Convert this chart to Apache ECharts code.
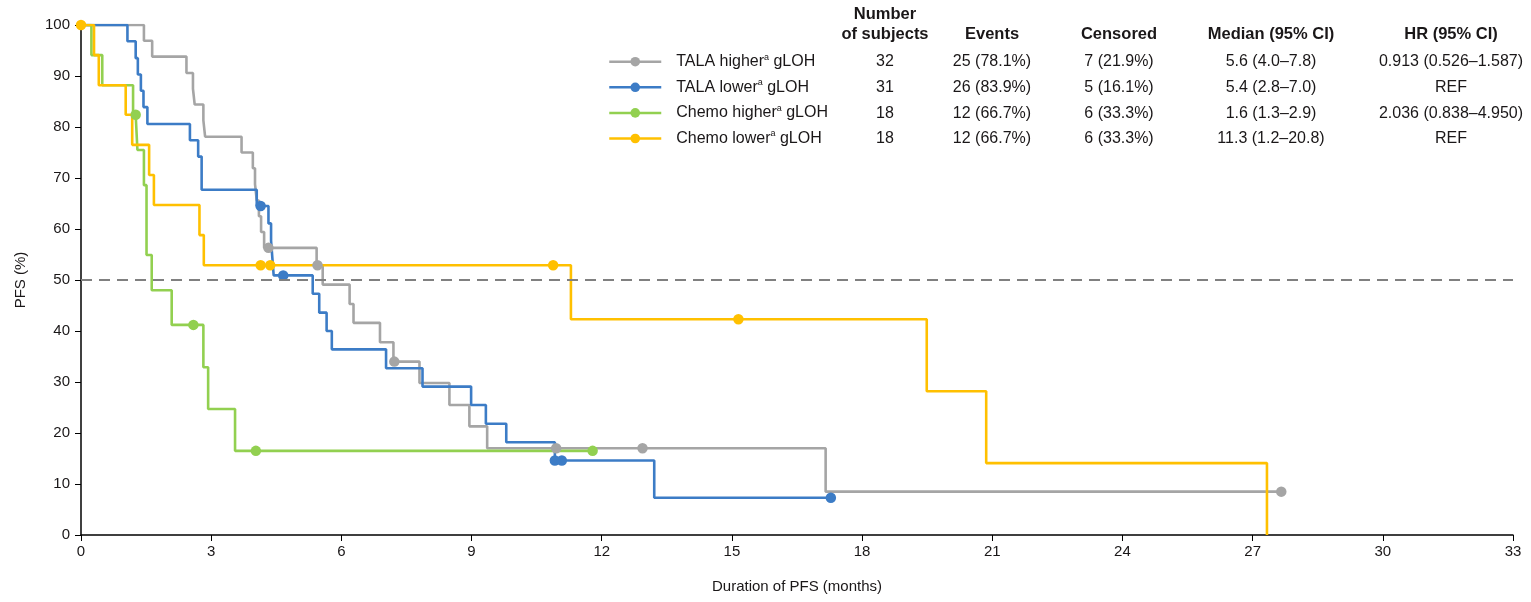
<!DOCTYPE html>
<html>
<head>
<meta charset="utf-8">
<title>PFS by gLOH</title>
<script src="https://cdn.jsdelivr.net/npm/echarts@6/dist/echarts.min.js"></script>
<style>
  html, body { margin: 0; padding: 0; background: #fff; }
  #chart { width: 1531px; height: 602px; }
</style>
</head>
<body>
<div id="chart"></div>
<script>
// groups, in draw order (last one ends up on top)
const groups = ['TALA higher', 'TALA lower', 'Chemo higher', 'Chemo lower'];
const colors = ['#a5a5a5', '#3c7cc6', '#92d050', '#ffc000'];

// event times (months) and PFS (%) right after each event
const talaHigherTimes = [0, 1.45, 1.64, 2.43, 2.58, 2.62, 2.82, 2.86, 3.70, 3.96, 4.01, 4.05, 4.10, 4.15, 4.22, 5.43, 5.57, 6.19, 6.28, 6.89, 7.20, 7.80, 8.49, 8.95, 9.36, 17.16];
const talaHigherPfs = [100, 96.9, 93.8, 90.6, 87.5, 84.4, 81.3, 78.1, 75.0, 71.9, 68.8, 65.6, 62.5, 59.4, 56.3, 52.9, 49.1, 45.3, 41.6, 37.8, 34.0, 29.8, 25.5, 21.3, 17.0, 8.5];
const talaHigherCensored = [4.32, 5.45, 7.22, 10.95, 12.94, 27.66];

const talaLowerTimes = [0, 1.07, 1.26, 1.31, 1.38, 1.44, 1.53, 2.51, 2.70, 2.78, 4.05, 4.32, 4.38, 4.41, 4.44, 5.34, 5.49, 5.66, 5.78, 7.03, 7.87, 8.99, 9.33, 9.80, 10.92, 13.21];
const talaLowerPfs = [100, 96.8, 93.5, 90.3, 87.1, 83.9, 80.6, 77.4, 74.2, 67.7, 64.5, 61.1, 57.7, 54.3, 50.9, 47.3, 43.6, 40.0, 36.4, 32.7, 29.1, 25.5, 21.8, 18.2, 14.6, 7.3];
const talaLowerCensored = [4.14, 4.66, 10.92, 11.08, 17.28];

const chemoHigherTimes = [0, 0.24, 0.49, 1.20, 1.30, 1.45, 1.51, 1.63, 2.09, 2.82, 2.93, 3.55];
const chemoHigherPfs = [100, 94.1, 88.2, 82.4, 75.5, 68.6, 54.9, 48.0, 41.2, 32.9, 24.7, 16.5];
const chemoHigherCensored = [1.26, 2.59, 4.03, 11.79];

const chemoLowerTimes = [0, 0.30, 0.41, 1.03, 1.18, 1.57, 1.68, 2.73, 2.83, 11.29, 19.49, 20.86, 27.33];
const chemoLowerPfs = [100, 94.1, 88.2, 82.4, 76.5, 70.6, 64.7, 58.8, 52.9, 42.3, 28.2, 14.1, 0];
const chemoLowerCensored = [0, 4.14, 4.36, 10.88, 15.15];

// table at the top right
const tableHeaders = ['Number\nof subjects', 'Events', 'Censored', 'Median (95% CI)', 'HR (95% CI)'];
const nSubjects = ['32', '31', '18', '18'];
const eventCounts = ['25 (78.1%)', '26 (83.9%)', '12 (66.7%)', '12 (66.7%)'];
const censoredCounts = ['7 (21.9%)', '5 (16.1%)', '6 (33.3%)', '6 (33.3%)'];
const medians = ['5.6 (4.0–7.8)', '5.4 (2.8–7.0)', '1.6 (1.3–2.9)', '11.3 (1.2–20.8)'];
const hazardRatios = ['0.913 (0.526–1.587)', 'REF', '2.036 (0.838–4.950)', 'REF'];

const xTicks = [0, 3, 6, 9, 12, 15, 18, 21, 24, 27, 30, 33];
const yTicks = [0, 10, 20, 30, 40, 50, 60, 70, 80, 90, 100];

const curves = [
  [talaHigherTimes, talaHigherPfs, talaHigherCensored],
  [talaLowerTimes, talaLowerPfs, talaLowerCensored],
  [chemoHigherTimes, chemoHigherPfs, chemoHigherCensored],
  [chemoLowerTimes, chemoLowerPfs, chemoLowerCensored]
];

const FONT = '"Liberation Sans", Arial, sans-serif';
const TEXT = '#1a1718';

// PFS at time t = value after the last event at or before t
const pfsAt = (times, pfs, t) => {
  let v = pfs[0];
  times.forEach((tt, i) => { if (tt <= t) v = pfs[i]; });
  return v;
};

// events and censor marks merged into one step line, dots only on censors
const buildData = ([times, pfs, cens]) => {
  const pts = times.map((t, i) => ({ value: [t, pfs[i]], symbol: 'none', k: 0 }));
  cens.forEach(t => pts.push({ value: [t, pfsAt(times, pfs, t)], k: 1 }));
  pts.sort((a, b) => a.value[0] - b.value[0] || a.k - b.k);
  return pts.map(p => p.symbol ? { value: p.value, symbol: p.symbol } : { value: p.value });
};

const series = groups.map((name, i) => ({
  name,
  type: 'line',
  step: 'end',
  data: buildData(curves[i]),
  symbol: 'circle',
  symbolSize: 10.5,
  showAllSymbol: true,
  color: colors[i],
  lineStyle: { width: 2.6, color: colors[i] },
  itemStyle: { color: colors[i] },
  emphasis: { disabled: true },
  markLine: i === 0 ? {
    silent: true,
    symbol: ['none', 'none'],
    label: { show: false },
    lineStyle: { color: '#808080', type: [11, 7], width: 2 },
    data: [{ yAxis: 50 }]
  } : undefined
}));

// table texts
const colX = [885, 992, 1119, 1271, 1451];
const rowY = [61.7, 87.5, 113.2, 138.6];
const tableCols = [nSubjects, eventCounts, censoredCounts, medians, hazardRatios];
const graphic = [];
tableHeaders.forEach((h, c) => {
  graphic.push({
    type: 'text', x: colX[c], y: 45,
    style: {
      text: h, align: 'center', verticalAlign: 'bottom',
      font: 'bold 16.5px ' + FONT, lineHeight: 20.5, fill: TEXT
    }
  });
});
tableCols.forEach((col, c) => {
  col.forEach((txt, r) => {
    graphic.push({
      type: 'text', x: colX[c], y: rowY[r],
      style: { text: txt, align: 'center', verticalAlign: 'middle', font: '16px ' + FONT, fill: TEXT }
    });
  });
});

const chart = echarts.init(document.getElementById('chart'));
chart.setOption({
  animation: false,
  backgroundColor: '#fff',
  grid: { left: 81, right: 18, top: 25, bottom: 67 },
  legend: {
    orient: 'vertical',
    left: 608,
    top: 52.7,
    padding: 0,
    itemWidth: 52,
    itemHeight: 12,
    itemGap: 7.6,
    selectedMode: false,
    data: groups,
    lineStyle: { width: 2.5 },
    formatter: name => name + '{sup|a} gLOH',
    textStyle: {
      fontFamily: FONT, fontSize: 16, color: TEXT, lineHeight: 18,
      padding: [0, 0, 0, 10],
      rich: { sup: { fontSize: 9, verticalAlign: 'top', lineHeight: 11, fontFamily: FONT, color: TEXT } }
    }
  },
  xAxis: {
    type: 'value',
    min: 0,
    max: 33,
    interval: 3,
    name: 'Duration of PFS (months)',
    nameLocation: 'middle',
    nameGap: 44,
    nameTextStyle: { fontFamily: FONT, fontSize: 15, color: TEXT },
    axisLine: { lineStyle: { color: '#000', width: 1.5 } },
    axisTick: { length: 6, lineStyle: { color: '#000' } },
    axisLabel: { margin: 9, fontFamily: FONT, fontSize: 15, color: TEXT,
      formatter: v => xTicks.includes(v) ? String(v) : '' },
    splitLine: { show: false }
  },
  yAxis: {
    type: 'value',
    min: 0,
    max: 100,
    interval: 10,
    name: 'PFS (%)',
    nameLocation: 'middle',
    nameGap: 53,
    nameTextStyle: { fontFamily: FONT, fontSize: 15, color: TEXT },
    axisLine: { show: true, lineStyle: { color: '#000', width: 1.5 } },
    axisTick: { show: true, length: 6, lineStyle: { color: '#000' } },
    axisLabel: { margin: 11, fontFamily: FONT, fontSize: 15, color: TEXT,
      formatter: v => yTicks.includes(v) ? String(v) : '' },
    splitLine: { show: false }
  },
  graphic,
  series
});
</script>
</body>
</html>
